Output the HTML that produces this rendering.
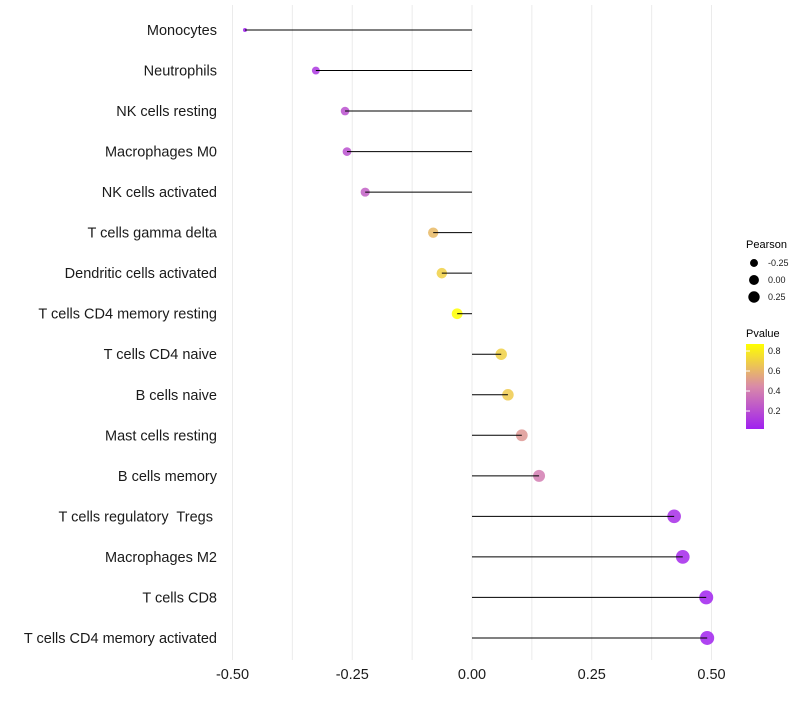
<!DOCTYPE html>
<html><head><meta charset="utf-8"><style>
body{margin:0;background:#fff;font-family:"Liberation Sans",Arial,sans-serif}
</style></head><body>
<svg id="c" width="800" height="700" xmlns="http://www.w3.org/2000/svg">
<defs><linearGradient id="pg" x1="0" y1="1" x2="0" y2="0">
<stop offset="0" stop-color="#a020f0"/><stop offset="0.5" stop-color="#d98aa8"/><stop offset="1" stop-color="#ffff00"/>
</linearGradient></defs>
</svg>
<script>
const cells=["Monocytes","Neutrophils","NK cells resting","Macrophages M0","NK cells activated","T cells gamma delta","Dendritic cells activated","T cells CD4 memory resting","T cells CD4 naive","B cells naive","Mast cells resting","B cells memory","T cells regulatory\u00a0 Tregs\u00a0","Macrophages M2","T cells CD8","T cells CD4 memory activated"];
const pearson=[-0.474,-0.326,-0.265,-0.261,-0.223,-0.081,-0.063,-0.031,0.061,0.075,0.104,0.140,0.422,0.440,0.489,0.491];
const pvalue=[0.03,0.12,0.22,0.22,0.28,0.62,0.7,0.87,0.7,0.68,0.5,0.4,0.08,0.06,0.04,0.04];
const xTicks=[-0.5,-0.25,0,0.25,0.5];
const xTickLabels=["-0.50","-0.25","0.00","0.25","0.50"];
const xGrid=[-0.5,-0.375,-0.25,-0.125,0,0.125,0.25,0.375,0.5];
const legendSizes=[-0.25,0,0.25];

const svg=document.getElementById('c');const NS="http://www.w3.org/2000/svg";
const X=v=>472+v*479;
const Y=i=>30+i*40.53;
const pmin=0.03,pmax=0.87;
const vmin=Math.min(...pearson),vmax=Math.max(...pearson);
const R=v=>2+Math.sqrt(Math.max(0,(v-vmin)/(vmax-vmin)))*5;
function lerp(a,b,t){return Math.round(a+(b-a)*t)}
function col(p){const t=Math.max(0,Math.min(1,(p-pmin)/(pmax-pmin)));
 const s=[[0,[160,32,240]],[0.5,[217,138,168]],[1,[255,255,0]]];
 let a=s[0],b=s[1];if(t>0.5){a=s[1];b=s[2];}
 const u=(t-a[0])/(b[0]-a[0]);
 return `rgb(${lerp(a[1][0],b[1][0],u)},${lerp(a[1][1],b[1][1],u)},${lerp(a[1][2],b[1][2],u)})`;}
function mk(tag,attrs,txt){const e=document.createElementNS(NS,tag);for(const k in attrs)e.setAttribute(k,attrs[k]);if(txt!==undefined)e.textContent=txt;svg.appendChild(e);return e;}

xGrid.forEach(v=>{const e=mk('line',{x1:X(v),x2:X(v),y1:5,y2:660,stroke:'#ebebeb','stroke-width':1});

});

cells.forEach((c,i)=>{
 const t=mk('text',{x:217,y:Y(i)+5,'text-anchor':'end','font-size':14.5,fill:'#1a1a1a'},c);
 
 
 const p=mk('circle',{cx:X(pearson[i]),cy:Y(i),r:R(pearson[i]),fill:col(pvalue[i]),'fill-opacity':0.85});
 
 
 const l=mk('line',{x1:X(0),x2:X(pearson[i]),y1:Y(i),y2:Y(i),stroke:'#000','stroke-width':1});
 
 
});
xTicks.forEach((v,i)=>{const t=mk('text',{x:X(v),y:679,'text-anchor':'middle','font-size':14.5,fill:'#1a1a1a'},xTickLabels[i]);

});

let e=mk('text',{x:746,y:248,'font-size':11,fill:'#000'},'Pearson');


legendSizes.forEach((v,i)=>{const cy=263+i*17;
 const c=mk('circle',{cx:754,cy:cy,r:R(v)*0.9,fill:'#000'});
 
 
 const t=mk('text',{x:768,y:cy+3,'font-size':9,fill:'#1a1a1a'},v.toFixed(2));
 
 });
e=mk('text',{x:746,y:337,'font-size':11,fill:'#000'},'Pvalue');


e=mk('rect',{x:746,y:344,width:18,height:85,fill:'url(#pg)'});


[0.8,0.6,0.4,0.2].forEach(v=>{const y=431-v*100;
 const tk=mk('line',{x1:746,x2:750,y1:y,y2:y,stroke:'#fff','stroke-width':1});
 
 
 const t=mk('text',{x:768,y:y+3,'font-size':9,fill:'#1a1a1a'},v.toFixed(1));
 
 });
</script>
</body></html>
